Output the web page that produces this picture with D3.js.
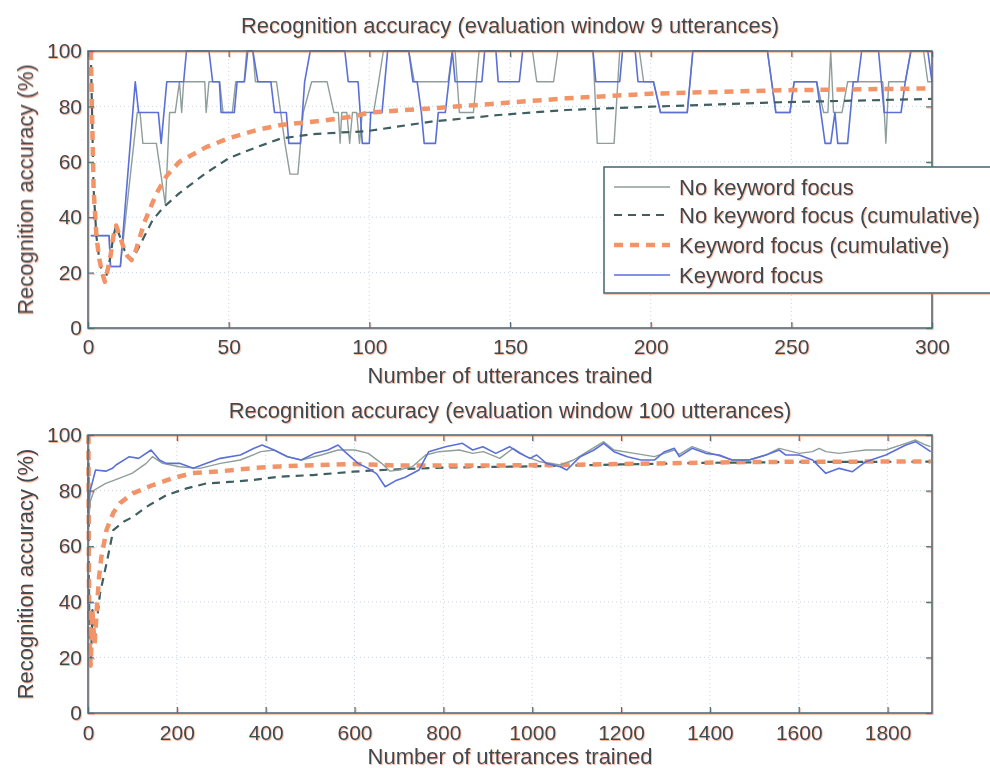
<!DOCTYPE html>
<html>
<head>
<meta charset="utf-8">
<script src="https://cdn.jsdelivr.net/npm/d3@7"></script>
<style>
  html, body { margin: 0; padding: 0; background: #fff; }
  svg { display: block; font-family: "Liberation Sans", Arial, Helvetica, sans-serif; }
</style>
</head>
<body>
<svg id="chart" width="990" height="768"></svg>
<script>
// ---- Data ------------------------------------------------------------------
// Top panel: evaluation window of 9 utterances, so the solid lines are
// [utterance, correct out of 9] breakpoints.
var topKeyword = [
  [1,3],[7.5,3],[8,2],[11.5,2],[16.8,8],[18,7],[25,7],[26,6],[28,8],[34,8],[35,9],
  [43,9],[44.3,8],[46.7,8],[47.3,7],[52,7],[53,8],[55.6,8],[56.8,9],[58.6,9],
  [60.4,8],[65,8],[66.3,7],[70.5,7],[71.4,6],[75.5,6],[77,8],[79,9],[91.3,9],
  [92.5,8],[96,8],[97.5,6],[100,6],[100.5,7],[104.5,7],[106.5,9],[114,9],
  [115.5,8],[117,8],[118.5,7],[119.5,6],[123.5,6],[124.5,7],[127,7],[129.5,9],
  [130.5,8],[140,8],[141,9],[145,9],[145.8,8],[153.3,8],[154.5,9],[179.5,9],
  [180.5,8],[189,8],[190,9],[194.5,9],[195.5,8],[201,8],[203.5,7],[213,7],
  [215,9],[241.5,9],[243,8],[244.5,7],[249.5,7],[251,8],[259,8],[262,6],[264,6],
  [265.5,7],[266.5,6],[270,6],[272,8],[273.6,8],[275,9],[281,9],[282,8],[283,7],
  [289,7],[290.5,8],[292.5,9],[298.5,9],[300,8]
];
var topNoKeyword = [
  [1,3],[7.5,3],[8,2],[11.5,2],[17.5,7],[18.5,7],[19.5,6],[24.3,6],[27.5,4],
  [29,7],[31,7],[32.5,8],[33.3,7],[34,8],[41.5,8],[42,7],[43,8],[46.8,8],[48,7],
  [51.3,7],[52.5,8],[55.5,8],[56.4,9],[58.6,9],[59.5,8],[67,8],[68.5,7],[70,6],
  [71.8,5],[74.6,5],[76.5,7],[79.5,8],[85,8],[87.4,7],[89,7],[89.6,6],[90.2,7],
  [92,7],[93,6],[94,7],[95.5,7],[96.5,6],[97.5,7],[101.5,7],[103.3,8],[105,9],
  [114,9],[116,8],[128,8],[129.5,9],[130.5,9],[132,7],[137,7],[139,9],[158,9],
  [159.5,8],[165.5,8],[167,9],[179.5,9],[181,6],[187,6],[189,9],[196,9],
  [197.5,8],[201,8],[203.5,7],[213,7],[215,9],[241.5,9],[243,8],[244.5,7],
  [249.5,7],[251,8],[259,8],[261.5,7],[263,7],[264,9],[265,7],[268,7],[270,8],
  [282.5,8],[283.6,6],[284.6,8],[290.5,8],[292.5,9],[297,9],[298.5,8],[300,8]
];
// cumulative accuracy, [utterance, %]
var topKeywordCum = [
  [1,100],[2,50],[3,33],[4,25],[5,20],[6,16.7],[7,21],[8,26],[9,33],[10,37],
  [11,34],[12,31],[13,28],[14,26],[15.5,24.5],[17,28],[20,38],[22,43],[24.3,48.5],
  [28,55],[32.5,60],[42,65.3],[50,68.5],[60,71.5],[68.5,73.3],[83,74.8],[95,76.5],
  [100,77.8],[122,79.3],[146,81.1],[170,82.9],[200,84.6],[246,85.8],[300,86.5]
];
var topNoKeywordCum = [
  [1,100],[2,50],[3,33],[4,25],[5,20],[6,16.7],[7,21],[8,26],[9,33],[10,37],
  [11,34],[12,31],[13,28],[14,26],[15.5,24.5],[17,27],[20,33],[23,39],[26.6,43.3],
  [32.5,48.7],[42,56],[50.4,61.5],[60,65.3],[68.5,68.4],[80,70],[90,70.6],
  [98.6,71],[122,74.5],[146,76.9],[170,78.7],[200,79.9],[246,81.5],[300,82.7]
];

// Bottom panel: evaluation window of 100 utterances, [utterance, %]
var botKeyword = [
  [0,72],[5,80],[17,87.4],[40,87],[55,88],[63,89.2],[93,92.2],[114,91.6],[142,94.6],
  [161,91],[176,89.8],[206,89.8],[237,88],[267,89.8],[298,91.6],[343,92.8],
  [374,95.2],[392,96.4],[419,94.6],[449,92.2],[480,91],[510,93.4],[540,94.6],
  [563,96.4],[578,94],[608,89.8],[631,88],[650,86],[669,81.4],[692,83.5],
  [714,84.8],[745,87.4],[767,94],[805,95.8],[843,97],[866,94.6],[889,95.8],
  [918,93.4],[949,95.8],[972,93.4],[995,91.6],[1010,92.8],[1032,89.8],
  [1063,88.6],[1078,87.4],[1108,92.2],[1139,94.6],[1161,97],[1184,94],
  [1214,92.2],[1245,91],[1275,91],[1298,94],[1320,95.2],[1331,92.2],[1360,95.2],
  [1391,93.4],[1421,92.8],[1450,91],[1488,91],[1526,92.8],[1556,94.6],
  [1571,92.8],[1601,92.8],[1631,91],[1661,86.2],[1691,88],[1721,86.8],
  [1751,90.4],[1796,92.8],[1841,96.4],[1863,97.6],[1886,95.2],[1897,94]
];
var botNoKeyword = [
  [0,66],[5,76],[14,80.2],[40,82.6],[70,84.4],[100,86.3],[131,89.8],[145,92.2],
  [168,89.8],[206,88.6],[252,88],[298,89.8],[343,91],[389,94],[419,94.6],
  [449,92.2],[480,91],[525,92.8],[563,94.6],[601,94.6],[631,93.4],[661,89.8],
  [680,87],[700,87.4],[730,88.6],[760,92.8],[790,94],[836,94.6],[866,93.4],
  [890,94],[927,91.6],[957,95.2],[987,92.2],[1017,90.4],[1063,89.2],[1093,91],
  [1124,94],[1161,97.6],[1184,94.6],[1230,93.4],[1275,92.2],[1320,94.6],
  [1331,93],[1360,95.8],[1391,94],[1421,92.5],[1450,91],[1488,91],[1526,92.8],
  [1556,95.2],[1601,93.4],[1631,94],[1646,95.2],[1661,94],[1691,93.4],
  [1721,94],[1751,94.6],[1796,94.6],[1841,97],[1863,98.2],[1886,96.4],[1897,95.8]
];
var botKeywordCum = [
  [1,100],[2,50],[3,33],[4,25],[5,20],[6,17],[8,26],[10,37],[12,31],[15,25],
  [20,38],[25,49],[30,56],[42,66],[57,72],[72,75.5],[101,79],[146,82],[191,84.5],
  [236,86.3],[296,86.9],[371,88.1],[432,88.7],[522,89.2],[596,89.6],[700,89],
  [900,89],[1100,89.3],[1300,89.8],[1500,90.3],[1700,90.4],[1897,90.5]
];
var botNoKeywordCum = [
  [1,100],[2,50],[3,33],[4,25],[5,20],[6,17],[8,26],[10,37],[12,31],[15,25],
  [20,33],[27,43],[42,54],[57,65.8],[80,68.8],[102,70.6],[132,74.2],[177,78.4],
  [222,80.8],[267,82.6],[327,83.2],[371,83.8],[432,85],[507,85.6],[596,86.8],
  [657,87.4],[800,88.3],[1000,88.7],[1200,89.4],[1400,90],[1600,90.3],[1897,90.4]
];

var yTicks = [0, 20, 40, 60, 80, 100];
var topXTicks = [0, 50, 100, 150, 200, 250, 300];
var botXTicks = [0, 200, 400, 600, 800, 1000, 1200, 1400, 1600, 1800];

var seriesNames = [
  'No keyword focus',
  'No keyword focus (cumulative)',
  'Keyword focus (cumulative)',
  'Keyword focus'
];

// ---- Styles ----------------------------------------------------------------
var AXIS = '#4d6f7b';
var TEXT = '#3c4a51';
var STYLE = {
  plain:   { stroke: '#8f9e9a', width: 1.4, dash: null },
  plainCum:{ stroke: '#3f5f61', width: 2.2, dash: '8,6' },
  kwCum:   { stroke: '#f39468', width: 4.5, dash: '9,7' },
  kw:      { stroke: '#5a6fd8', width: 1.6, dash: null }
};

var svg = d3.select('#chart');
var defs = svg.append('defs');
var fringe = defs.append('filter').attr('id', 'fringe')
  .attr('x', '-5%').attr('y', '-5%').attr('width', '110%').attr('height', '110%');
fringe.append('feDropShadow')
  .attr('dx', 0.8).attr('dy', 1).attr('stdDeviation', 0.6)
  .attr('flood-color', '#f07a4a').attr('flood-opacity', 0.55);

function toPct(steps) {
  return steps.map(function(d) { return [d[0], d[1] * 100 / 9]; });
}

function drawPanel(opt) {
  var x = d3.scaleLinear().domain(opt.xDomain).range([88, 932]);
  var y = d3.scaleLinear().domain([0, 100]).range(opt.yRange);
  var g = svg.append('g');
  var top = opt.yRange[1], bottom = opt.yRange[0];

  // dotted grid
  g.append('g').selectAll('line.gx').data(opt.xTicks.slice(1)).join('line')
    .attr('x1', function(d) { return x(d); }).attr('x2', function(d) { return x(d); })
    .attr('y1', top).attr('y2', bottom)
    .attr('stroke', '#c9d7e6').attr('stroke-width', 1).attr('stroke-dasharray', '1,3');
  g.append('g').selectAll('line.gy').data(yTicks.slice(1, -1)).join('line')
    .attr('x1', 88).attr('x2', 932)
    .attr('y1', function(d) { return y(d); }).attr('y2', function(d) { return y(d); })
    .attr('stroke', '#c9d7e6').attr('stroke-width', 1).attr('stroke-dasharray', '1,3');

  var line = d3.line().x(function(d) { return x(d[0]); }).y(function(d) { return y(d[1]); });
  opt.series.forEach(function(s) {
    g.append('path').datum(s.data)
      .attr('d', line)
      .attr('fill', 'none')
      .attr('stroke', s.style.stroke)
      .attr('stroke-width', s.style.width)
      .attr('stroke-dasharray', s.style.dash)
      .attr('stroke-linejoin', 'round');
  });

  // axes with inward ticks on all four sides (box on)
  var axes = g.append('g').attr('filter', 'url(#fringe)');
  axes.append('g').attr('transform', 'translate(0,' + bottom + ')')
    .call(d3.axisBottom(x).tickValues(opt.xTicks).tickSize(-6).tickPadding(opt.xPad)
      .tickFormat(d3.format('d')));
  axes.append('g').attr('transform', 'translate(0,' + top + ')')
    .call(d3.axisTop(x).tickValues(opt.xTicks).tickSize(-6).tickFormat(''));
  axes.append('g').attr('transform', 'translate(88,0)')
    .call(d3.axisLeft(y).tickValues(yTicks).tickSize(-6).tickPadding(6));
  axes.append('g').attr('transform', 'translate(932,0)')
    .call(d3.axisRight(y).tickValues(yTicks).tickSize(-6).tickFormat(''));
  axes.selectAll('.domain').remove();
  axes.selectAll('.tick line').attr('stroke', AXIS).attr('stroke-width', 1.2);
  axes.selectAll('.tick text').attr('fill', TEXT).attr('font-size', 21)
    .attr('font-family', '"Liberation Sans", Arial, sans-serif');
  axes.append('rect')
    .attr('x', 88).attr('y', top).attr('width', 844).attr('height', bottom - top)
    .attr('fill', 'none').attr('stroke', AXIS).attr('stroke-width', 1.6);

  var labels = g.append('g').attr('filter', 'url(#fringe)')
    .attr('fill', TEXT).attr('font-size', 22);
  labels.append('text').attr('x', 510).attr('y', opt.titleY)
    .attr('text-anchor', 'middle').text(opt.title);
  labels.append('text').attr('x', 510).attr('y', opt.xLabelY)
    .attr('text-anchor', 'middle').text('Number of utterances trained');
  labels.append('text')
    .attr('transform', 'translate(33,' + ((top + bottom) / 2) + ') rotate(-90)')
    .attr('text-anchor', 'middle').text('Recognition accuracy (%)');
}

var topSeries = [
  { data: toPct(topNoKeyword), style: STYLE.plain },
  { data: toPct(topKeyword), style: STYLE.kw },
  { data: topNoKeywordCum, style: STYLE.plainCum },
  { data: topKeywordCum, style: STYLE.kwCum }
];
var botSeries = [
  { data: botNoKeywordCum, style: STYLE.plainCum },
  { data: botKeywordCum, style: STYLE.kwCum },
  { data: botNoKeyword, style: STYLE.plain },
  { data: botKeyword, style: STYLE.kw }
];

drawPanel({
  xDomain: [0, 300], yRange: [328, 51], xTicks: topXTicks, xPad: 11,
  series: topSeries, titleY: 33, xLabelY: 383,
  title: 'Recognition accuracy (evaluation window 9 utterances)'
});
drawPanel({
  xDomain: [0, 1900], yRange: [713, 435], xTicks: botXTicks, xPad: 12,
  series: botSeries, titleY: 418, xLabelY: 764,
  title: 'Recognition accuracy (evaluation window 100 utterances)'
});

// ---- Legend (top panel, runs off the right edge as in the source) ---------
var legendStyles = [STYLE.plain, STYLE.plainCum, STYLE.kwCum, STYLE.kw];
var legendY = [187, 215, 245, 275];
var lg = svg.append('g');
lg.append('rect').attr('x', 604).attr('y', 167).attr('width', 400).attr('height', 126)
  .attr('fill', '#fff').attr('stroke', AXIS).attr('stroke-width', 1.6)
  .attr('filter', 'url(#fringe)');
seriesNames.forEach(function(name, i) {
  var st = legendStyles[i];
  lg.append('line').attr('x1', 614).attr('x2', 670)
    .attr('y1', legendY[i]).attr('y2', legendY[i])
    .attr('stroke', st.stroke).attr('stroke-width', st.width)
    .attr('stroke-dasharray', st.dash);
  lg.append('text').attr('x', 679).attr('y', legendY[i] + 8)
    .attr('fill', TEXT).attr('font-size', 22).attr('filter', 'url(#fringe)')
    .text(name);
});
</script>
</body>
</html>
